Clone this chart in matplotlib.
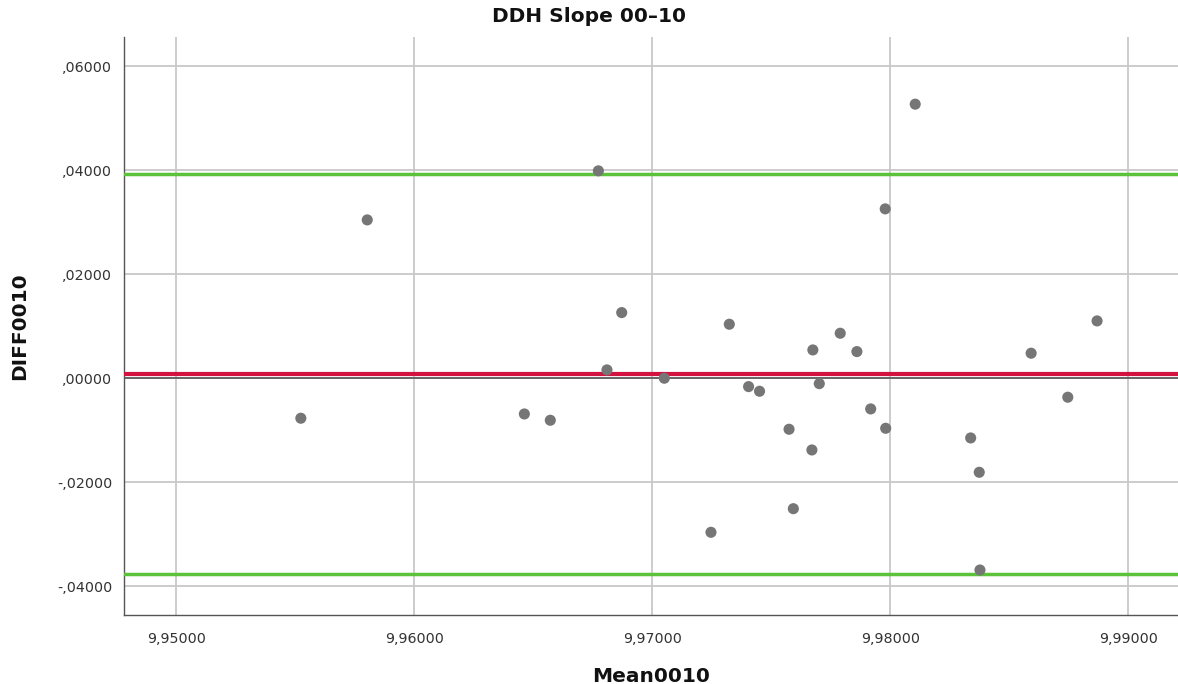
import matplotlib
matplotlib.use("Agg")
import matplotlib.pyplot as plt
from matplotlib.ticker import FuncFormatter

# Bland-Altman data: mean of the two measurements vs. their difference
mean0010 = [9.95803, 9.95524, 9.96774, 9.98105, 9.97979,
            9.96463, 9.96572, 9.96872, 9.96810, 9.97051, 9.97324,
            9.97405, 9.97451, 9.97575, 9.97593, 9.97247,
            9.97675, 9.97702, 9.97671, 9.97790, 9.97860, 9.97918,
            9.97981, 9.98338, 9.98374, 9.98377, 9.98592, 9.98746, 9.98869]
diff0010 = [0.03044, -0.00769, 0.03987, 0.05269, 0.03256,
            -0.00687, -0.00808, 0.01262, 0.00160, 0.00000, 0.01038,
            -0.00161, -0.00250, -0.00981, -0.02508, -0.02962,
            0.00544, -0.00104, -0.01379, 0.00865, 0.00512, -0.00590,
            -0.00962, -0.01148, -0.01808, -0.03687, 0.00481, -0.00365, 0.01102]

mean_diff = 0.00086
upper_loa = 0.03935
lower_loa = -0.03763

x_ticks = [9.95, 9.96, 9.97, 9.98, 9.99]
y_ticks = [-0.04, -0.02, 0.00, 0.02, 0.04, 0.06]

plt.rcParams['font.family'] = ['DejaVu Sans']

fig = plt.figure(figsize=(11.78, 6.84), dpi=100)
ax = fig.add_axes([123.5 / 1178, 1 - 615 / 684, (1178 - 123.5) / 1178, (615 - 36.5) / 684])

ax.set_xlim(9.94779, 9.99209)
ax.set_ylim(-0.04552, 0.0657)

ax.set_xticks(x_ticks)
ax.set_yticks(y_ticks)


def x_fmt(v, pos):
    return f"{v:.5f}".replace(".", ",")


def y_fmt(v, pos):
    if abs(v) < 1e-12:
        return ",00000"
    return f"{v:.5f}".replace("0.", ".", 1).replace(".", ",")


ax.xaxis.set_major_formatter(FuncFormatter(x_fmt))
ax.yaxis.set_major_formatter(FuncFormatter(y_fmt))

ax.grid(True, color="#c8c8c8", linewidth=1.3, zorder=0)
ax.set_axisbelow(True)
ax.tick_params(length=0, labelsize=10.3, colors="#333333", pad=8)
ax.tick_params(axis="x", pad=12)

for side in ("top", "right"):
    ax.spines[side].set_visible(False)
for side in ("left", "bottom"):
    ax.spines[side].set_color("#555555")
    ax.spines[side].set_linewidth(1.0)

# reference line at zero, mean difference and limits of agreement
ax.axhline(0.0, color="#555555", linewidth=1.2, zorder=2)
ax.axhline(mean_diff, color="#d4123f", linewidth=3.0, zorder=3)
ax.axhline(upper_loa, color="#5cc23a", linewidth=2.5, zorder=3)
ax.axhline(lower_loa, color="#5cc23a", linewidth=2.5, zorder=3)

ax.scatter(mean0010, diff0010, s=64, color="#767676", edgecolors="none", zorder=4)

fig.text(0.5, 1 - 17 / 684, "DDH Slope 00–10", ha="center", va="center",
         fontsize=14.5, fontweight="bold", color="#111111")
ax.set_xlabel("Mean0010", fontsize=14.5, fontweight="bold", color="#111111", labelpad=15)
ax.set_ylabel("DIFF0010", fontsize=14.5, fontweight="bold", color="#111111", labelpad=20)

fig.savefig("out.png", dpi=100)
